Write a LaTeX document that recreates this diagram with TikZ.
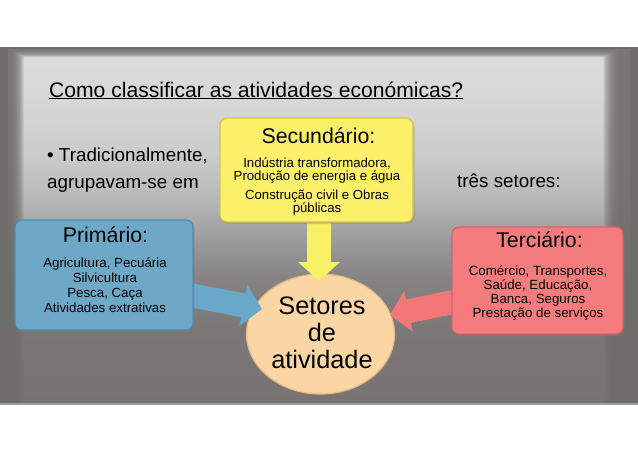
\documentclass[tikz,border=0pt]{standalone}
\usepackage{fontspec}
\setmainfont{Liberation Sans}
\usetikzlibrary{arrows.meta,shadows,shapes.geometric}
\definecolor{outerbg}{HTML}{6F6C6C}
\definecolor{pA}{HTML}{777372}
\definecolor{pB}{HTML}{7A7777}
\definecolor{pC}{HTML}{858383}
\definecolor{pD}{HTML}{9D9D9D}
\definecolor{pE}{HTML}{B9B9B9}
\definecolor{pF}{HTML}{CBCBCB}
\definecolor{pG}{HTML}{D8D8D8}
\definecolor{pH}{HTML}{DCDCDC}
\definecolor{secfill}{HTML}{FCF06A}
\definecolor{secdraw}{HTML}{D2C24A}
\definecolor{primfill}{HTML}{6DA8C7}
\definecolor{primdraw}{HTML}{4F8BAC}
\definecolor{terfill}{HTML}{F47C7C}
\definecolor{terdraw}{HTML}{D66262}
\definecolor{circfill}{HTML}{FAD6A4}
\definecolor{circdraw}{HTML}{E4B886}
\definecolor{yarr}{HTML}{F8F065}
\definecolor{barr}{HTML}{69A8C8}
\definecolor{rarr}{HTML}{F27878}
\pgfdeclareverticalshading{panelshade}{100bp}{color(0bp)=(pA); color(25bp)=(pA); color(35.5bp)=(pB); color(42.75bp)=(pC); color(48.5bp)=(pD); color(54.25bp)=(pE); color(60bp)=(pF); color(68.5bp)=(pG); color(75bp)=(pH); color(100bp)=(pH)}
\pgfdeclarelayer{bglayer}
\pgfdeclarelayer{circlelayer}
\pgfdeclarelayer{arrowlayer}
\pgfsetlayers{bglayer,circlelayer,arrowlayer,main}
\tikzset{
  box/.style={rounded corners=7pt, line width=1.2pt, inner sep=0pt,
    drop shadow={shadow xshift=1.5pt, shadow yshift=-2pt, opacity=0.35}},
  bgtext/.style={anchor=base west, inner sep=0pt, font=\fontsize{18.8}{22}\selectfont},
  boxtitle/.style={anchor=base, inner sep=0pt, font=\fontsize{21.3}{24}\selectfont},
  blockarrow/.style={line width=24pt, -{Triangle[width=41pt,length=19pt]}},
}
\begin{document}
\begin{tikzpicture}[x=1pt,y=-1pt]
\useasboundingbox (0,0) rectangle (638,451);
\begin{pgfonlayer}{bglayer}
\fill[white] (0,0) rectangle (638,451);
\fill[outerbg] (0,47) rectangle (638,404);
\shade[shading=panelshade] (8,49) rectangle (630,404);
\foreach \i in {0,...,9} {
  \fill[outerbg, opacity=0.2, even odd rule] (8,49) rectangle (630,404)
    ({12+1.3*\i},{50+0.8*\i}) rectangle ({617-1.5*\i},404);
}
\fill[pD] (0,403) rectangle (638,404.5);
\end{pgfonlayer}

% background texts
\node[bgtext, font=\fontsize{21.1}{24}\selectfont] (title) at (49,97) {\underline{Como classificar as atividades económicas?}};
\node[bgtext] (trad) at (47,161) {• Tradicionalmente,};
\node[bgtext] (agr) at (47,188) {agrupavam-se em};
\node[bgtext] (tres) at (457,187) {três setores:};

% circle
\begin{pgfonlayer}{circlelayer}
\node[ellipse, draw=circdraw, fill=circfill, line width=1.2pt, minimum width=148pt, minimum height=120pt,
  drop shadow={shadow xshift=1.5pt, shadow yshift=-2pt, opacity=0.35}] (circ) at (320.5,334) {};
\end{pgfonlayer}
\node[anchor=base, inner sep=0pt, font=\fontsize{25.3}{27}\selectfont] (circt) at (322,314)
  {\begin{tabular}[t]{@{}c@{}}Setores\\de\\atividade\end{tabular}};

% boxes
\node[box, fill=secfill, draw=secdraw, minimum width=193pt, minimum height=104pt] (sec) at (316.5,170) {};
\node[box, fill=primfill, draw=primdraw, minimum width=178pt, minimum height=110pt] (prim) at (104,275) {};
\node[box, fill=terfill, draw=terdraw, minimum width=171pt, minimum height=107pt] (ter) at (537.5,280.5) {};

\node[boxtitle] (sect) at (318.5,143) {Secundário:};
\node[anchor=base, inner sep=0pt, font=\fontsize{13.2}{12}\selectfont] (secb) at (317,167)
  {\begin{tabular}[t]{@{}c@{}}Indústria transformadora,\\Produção de energia e água\\[6pt]Construção civil e Obras\\públicas\end{tabular}};

\node[boxtitle] (primt) at (105.5,242) {Primário:};
\node[anchor=base, inner sep=0pt, font=\fontsize{13.3}{15}\selectfont] (primb) at (105,267)
  {\begin{tabular}[t]{@{}c@{}}Agricultura, Pecuária\\Silvicultura\\Pesca, Caça\\Atividades extrativas\end{tabular}};

\node[boxtitle] (tert) at (539.5,247) {Terciário:};
\node[anchor=base, inner sep=0pt, font=\fontsize{13.3}{14}\selectfont] (terb) at (538,275)
  {\begin{tabular}[t]{@{}c@{}}Comércio, Transportes,\\Saúde, Educação,\\Banca, Seguros\\Prestação de serviços\end{tabular}};

% arrows
\coordinate (ytip) at (319,281);
\coordinate (btip) at (262,309);
\coordinate (rtip) at (390,315);
\begin{pgfonlayer}{arrowlayer}
\draw[blockarrow, draw=yarr, fill=yarr] (sec.south -| ytip) -- (ytip);
\draw[blockarrow, draw=barr, fill=barr] ([xshift=-4pt,yshift=-20pt]prim.east) -- (btip);
\draw[blockarrow, draw=rarr, fill=rarr] ([xshift=4pt,yshift=-21pt]ter.west) -- (rtip);
\end{pgfonlayer}
\end{tikzpicture}
\end{document}
